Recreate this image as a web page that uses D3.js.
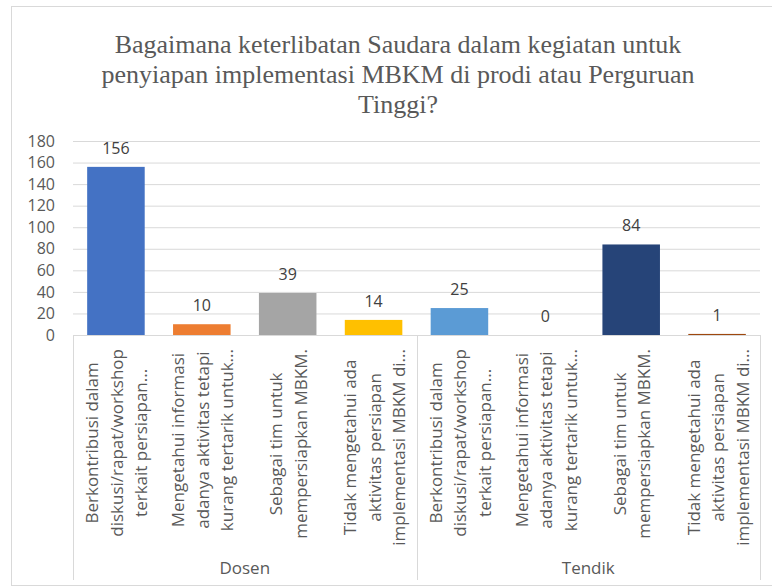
<!DOCTYPE html>
<html>
<head>
<meta charset="utf-8">
<script src="https://cdn.jsdelivr.net/npm/d3@7"></script>
<style>
  body { margin: 0; background: #fff; }
</style>
</head>
<body>
<div id="chart"></div>
<script>
const titleLines = [
  'Bagaimana keterlibatan Saudara dalam kegiatan untuk',
  'penyiapan implementasi MBKM di prodi atau Perguruan',
  'Tinggi?'
];
const groups = ['Dosen', 'Tendik'];
const answers = [
  ['Berkontribusi dalam', 'diskusi/rapat/workshop', 'terkait persiapan...'],
  ['Mengetahui informasi', 'adanya aktivitas tetapi', 'kurang tertarik untuk...'],
  ['Sebagai tim untuk', 'mempersiapkan MBKM.'],
  ['Tidak mengetahui ada', 'aktivitas persiapan', 'implementasi MBKM di...']
];
const dosenValues = [156, 10, 39, 14];
const tendikValues = [25, 0, 84, 1];
const barColors = ['#4472C4', '#ED7D31', '#A5A5A5', '#FFC000', '#5B9BD5', '#70AD47', '#264478', '#9E480E'];
const yTicks = [0, 20, 40, 60, 80, 100, 120, 140, 160, 180];

const W = 772, H = 587;
const margin = { top: 141, left: 73, right: 12, bottom: 252 };
const plotW = W - margin.left - margin.right;
const plotH = H - margin.top - margin.bottom;
const labelBottom = 580;

const data = [];
groups.forEach((g, gi) => {
  const vals = gi === 0 ? dosenValues : tendikValues;
  answers.forEach((a, ai) => {
    data.push({ key: g + ai, group: g, lines: a, value: vals[ai] });
  });
});

const svg = d3.select('#chart').append('svg')
  .attr('width', W)
  .attr('height', H);

// outer chart border
svg.append('rect')
  .attr('x', 11.5).attr('y', 6.5)
  .attr('width', 775).attr('height', 579)
  .attr('fill', 'none')
  .attr('stroke', '#d9d9d9');

// title
svg.append('g').selectAll('text')
  .data(titleLines)
  .join('text')
  .attr('x', W / 2 + 12)
  .attr('y', (d, i) => 53 + i * 30)
  .attr('text-anchor', 'middle')
  .attr('font-family', '"Liberation Serif", "Times New Roman", serif')
  .attr('font-size', 26)
  .attr('fill', '#595959')
  .text(d => d);

const x = d3.scaleBand()
  .domain(data.map(d => d.key))
  .range([0, plotW])
  .paddingInner(0.33)
  .paddingOuter(0.165);

const y = d3.scaleLinear().domain([0, 180]).range([plotH, 0]);

const g = svg.append('g')
  .attr('transform', `translate(${margin.left},${margin.top})`);

// y axis + gridlines
g.append('g')
  .call(d3.axisLeft(y).tickValues(yTicks).tickSize(0).tickPadding(18))
  .call(gr => gr.select('.domain').remove())
  .call(gr => gr.selectAll('.tick text')
    .attr('font-family', '"Open Sans", sans-serif')
    .attr('font-size', 16)
    .attr('fill', '#595959'))
  .call(gr => gr.selectAll('.tick line')
    .attr('x2', plotW)
    .attr('stroke', '#d9d9d9'));

// bars
g.append('g').selectAll('rect')
  .data(data)
  .join('rect')
  .attr('x', d => x(d.key))
  .attr('y', d => y(d.value))
  .attr('width', x.bandwidth())
  .attr('height', d => plotH - y(d.value))
  .attr('fill', (d, i) => barColors[i]);

// value labels
g.append('g').selectAll('text')
  .data(data)
  .join('text')
  .attr('x', d => x(d.key) + x.bandwidth() / 2)
  .attr('y', d => y(d.value) - 13)
  .attr('text-anchor', 'middle')
  .attr('font-family', '"Open Sans", sans-serif')
  .attr('font-size', 16)
  .attr('fill', '#404040')
  .text(d => d.value);

// category axis box
const axisG = g.append('g').attr('stroke', '#d9d9d9').attr('fill', 'none');
axisG.append('line')
  .attr('x1', 0).attr('x2', plotW)
  .attr('y1', plotH + 0.5).attr('y2', plotH + 0.5);
[0, 4, 8].forEach(k => {
  const xx = Math.round(k * plotW / 8) + 0.5;
  axisG.append('line')
    .attr('x1', xx).attr('x2', xx)
    .attr('y1', plotH).attr('y2', labelBottom - margin.top);
});

// rotated category labels
const lineGap = 24.5;
const catLabels = g.append('g').selectAll('g')
  .data(data)
  .join('g')
  .attr('transform', d => `translate(${x(d.key) + x.bandwidth() / 2},0)`);

catLabels.each(function (d) {
  const cg = d3.select(this);
  const n = d.lines.length;
  const texts = cg.selectAll('text')
    .data(d.lines)
    .join('text')
    .attr('font-family', '"Open Sans", sans-serif')
    .attr('font-size', 17)
    .attr('fill', '#595959')
    .attr('text-anchor', 'middle')
    .text(t => t);
  let maxLen = 0;
  texts.each(function () { maxLen = Math.max(maxLen, this.getComputedTextLength()); });
  const cy = plotH + 14 + maxLen / 2;
  texts.attr('transform', (t, i) =>
    `translate(${(i - (n - 1) / 2) * lineGap + 7},${cy}) rotate(-90)`);
});

// group labels
g.append('g').selectAll('text')
  .data(groups)
  .join('text')
  .attr('x', (d, i) => (i + 0.5) * plotW / 2)
  .attr('y', 574 - margin.top)
  .attr('text-anchor', 'middle')
  .attr('font-family', '"Open Sans", sans-serif')
  .attr('font-size', 17)
  .attr('fill', '#595959')
  .text(d => d);
</script>
</body>
</html>
